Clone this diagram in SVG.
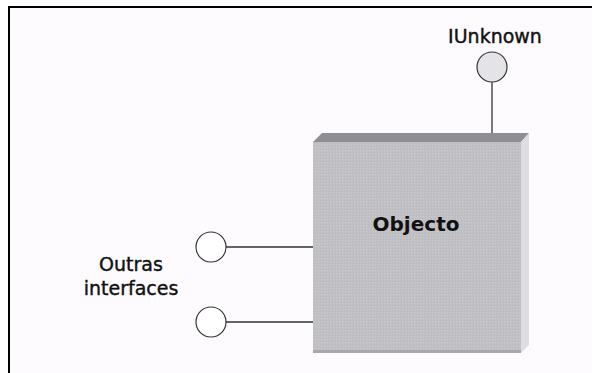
<svg xmlns="http://www.w3.org/2000/svg" width="592" height="373" viewBox="0 0 592 373">
<style>
.lbl{font-family:"DejaVu Sans","Liberation Sans",sans-serif;font-size:19px;fill:#111;stroke:#111;stroke-width:0.4;text-anchor:middle}
.big{font-family:"DejaVu Sans","Liberation Sans",sans-serif;font-size:20px;font-weight:bold;fill:#111;text-anchor:middle}
.iface{stroke:#333;stroke-width:1.2}
.wire{stroke:#333;stroke-width:1.3;fill:none}
</style>
<defs>
<pattern id="dither" width="3" height="3" patternUnits="userSpaceOnUse">
<rect width="3" height="3" fill="#c1c0c5"/>
<rect x="0" y="0" width="1" height="1" fill="#cacacd"/>
<rect x="2" y="2" width="1" height="1" fill="#b9b8bd"/>
</pattern>
</defs>
<rect width="592" height="373" fill="#ffffff"/>
<rect x="9" y="7" width="583" height="366" fill="#fdfbfd"/>
<g id="frame" fill="none" stroke="#000" stroke-width="2">
<line x1="8" y1="7" x2="592" y2="7"/>
<line x1="9" y1="7" x2="9" y2="373"/>
</g>
<g id="connectors">
<line class="wire" x1="492" y1="82" x2="492" y2="142"/>
<line class="wire" x1="226" y1="247" x2="313" y2="247"/>
<line class="wire" x1="226" y1="322" x2="313" y2="322"/>
</g>
<g id="objecto">
<polygon points="313,142 322,133 529,133 521,142" fill="#8f8f93"/>
<polygon points="521,142 529,133 529,345 521,353" fill="#dedde2"/>
<rect x="313" y="142" width="208" height="211" fill="url(#dither)"/>
<rect x="313" y="350" width="208" height="3" fill="#a9a9ad"/>
<text class="big" x="416" y="231">Objecto</text>
</g>
<g id="iunknown">
<circle class="iface" cx="492" cy="67" r="15" fill="#e4e3e8"/>
<text class="lbl" x="495" y="43">IUnknown</text>
</g>
<g id="iface1">
<circle class="iface" cx="211" cy="247" r="15" fill="#ffffff"/>
</g>
<g id="iface2">
<circle class="iface" cx="211" cy="322" r="15" fill="#ffffff"/>
</g>
<g id="outras-label">
<text class="lbl" x="131" y="271">Outras</text>
<text class="lbl" x="131" y="295">interfaces</text>
</g>
</svg>
